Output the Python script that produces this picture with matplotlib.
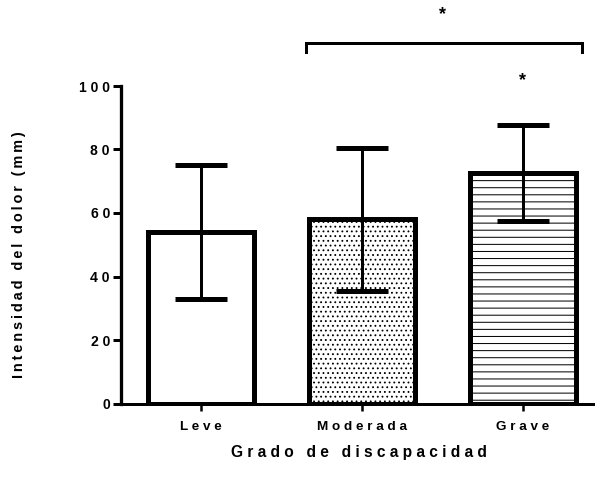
import matplotlib
matplotlib.use('Agg')
import matplotlib.pyplot as plt
import numpy as np

DPI = 85


def px(n):
    # pixel size -> points for this dpi
    return n * 72.0 / DPI


def spaced(s, sep=' '):
    # the original uses wide letter spacing
    return sep.join(s)


categories = ['Leve', 'Moderada', 'Grave']
means = [54.0, 58.0, 72.6]
sd = [21.0, 22.6, 15.2]
hatches = ['', '...', '--']
yticks = [0, 20, 40, 60, 80, 100]

plt.rcParams['font.family'] = ['Liberation Sans', 'DejaVu Sans']
plt.rcParams['font.weight'] = 'bold'
plt.rcParams['hatch.color'] = 'black'
plt.rcParams['hatch.linewidth'] = px(1.0)

fig = plt.figure(figsize=(595 / DPI, 493 / DPI), dpi=DPI)
ax = fig.add_axes([121 / 595, 89.5 / 493, 474 / 595, 317.5 / 493])

x = np.arange(len(categories))
bars = ax.bar(x, means, width=0.66, color='white', edgecolor='black',
              linewidth=px(5), zorder=2)
for b, h in zip(bars, hatches):
    b.set_hatch(h)

ax.errorbar(x, means, yerr=sd, fmt='none', ecolor='black',
            elinewidth=px(3), capsize=px(26.5), capthick=px(5), zorder=3)

ax.set_xlim(-0.5, 2.45)
ax.set_ylim(0, 100)
ax.set_yticks(yticks)
ax.set_yticklabels([spaced(str(v)) for v in yticks])
ax.set_xticks(x)
ax.set_xticklabels([spaced(c) for c in categories])

for side in ['top', 'right']:
    ax.spines[side].set_visible(False)
ax.spines['left'].set_linewidth(px(3.3))
ax.spines['bottom'].set_linewidth(px(3))
ax.spines['left'].set_zorder(4)

ax.tick_params(axis='y', length=px(8), width=px(3), pad=px(3),
               labelsize=px(14))
ax.tick_params(axis='x', length=px(7), width=px(2.5), pad=px(10),
               labelsize=px(13.5))

ax.set_ylabel(spaced('Intensidad del dolor (mm)', '\u2009'), fontsize=px(14.5),
              fontweight='bold')
ax.yaxis.set_label_coords(-0.215, 0.468)
ax.yaxis.label.set_va('center')
ax.set_xlabel(spaced('Grado de discapacidad'), fontsize=px(15.5),
              fontweight='bold')
ax.xaxis.set_label_coords(0.503, -0.153)
ax.xaxis.label.set_va('center')

# significance bracket and stars
ax.plot([0.65, 0.65, 2.37, 2.37], [110.6, 113.5, 113.5, 110.6], color='black',
        linewidth=px(3), clip_on=False, solid_joinstyle='miter')
ax.text(1.502, 122.5, '*', ha='center', va='center', fontsize=px(18),
        fontweight='bold')
ax.text(2.0, 101.7, '*', ha='center', va='center', fontsize=px(18),
        fontweight='bold')

fig.savefig('out.png', dpi=DPI)
